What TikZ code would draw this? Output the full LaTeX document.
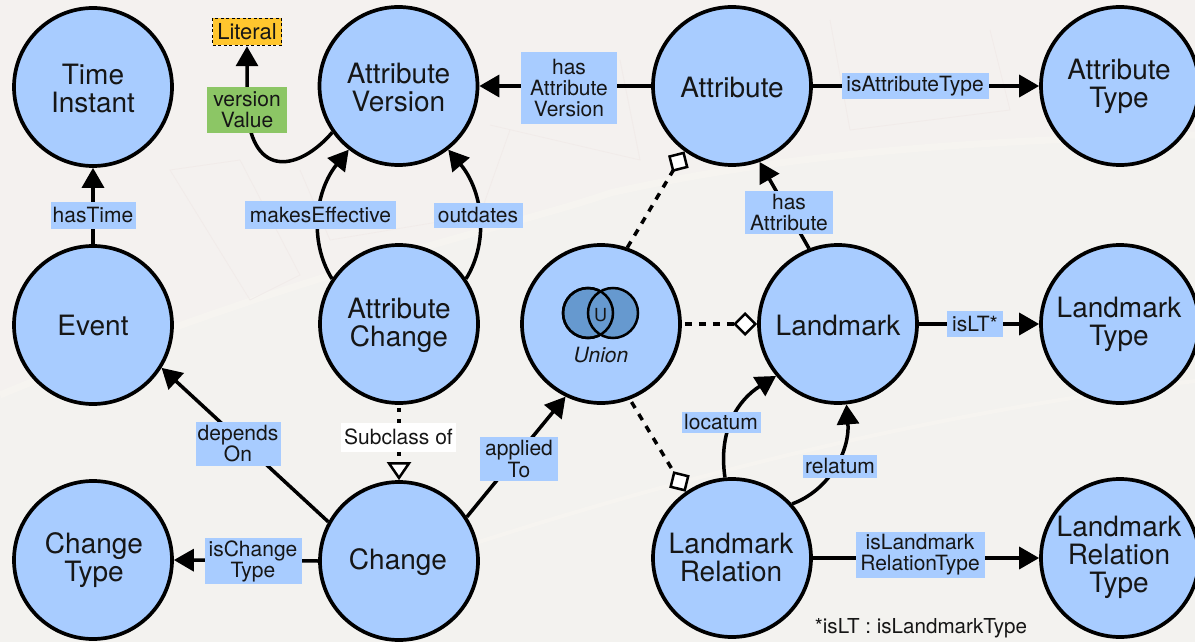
\documentclass[tikz,border=0pt]{standalone}
\usepackage{fontspec}
\setmainfont{TeX Gyre Heros}
\usetikzlibrary{arrows.meta}
\definecolor{bgc}{HTML}{F3F2EF}
\definecolor{mapc}{HTML}{F4F1EF}
\definecolor{bankc}{HTML}{F6F4F0}
\definecolor{parcelc}{HTML}{F1EBE9}
\definecolor{bluec}{HTML}{A8CCFF}
\definecolor{vennc}{HTML}{6699CF}
\definecolor{greenc}{HTML}{8CC665}
\definecolor{yellowc}{HTML}{FFC62E}
\definecolor{inkc}{HTML}{161616}
\tikzset{
  cnode/.style={circle,draw=black,line width=3.7pt,fill=bluec,minimum size=158pt,inner sep=0pt},
  ctext/.style={inner sep=0pt,align=center,text=inkc,font=\fontsize{28}{28}\selectfont},
  lbl/.style={fill=bluec,inner sep=0pt,align=center,text=inkc,font=\fontsize{21}{21}\selectfont},
  conn/.style={draw=black,line width=3.5pt},
  solidarrow/.style={conn,-{Triangle[length=20pt,width=22pt]}},
  dashdiamond/.style={conn,line width=3.5pt,dash pattern=on 7pt off 7pt,-{Diamond[length=24pt,width=24pt,fill=white,line width=2.5pt]}},
  subarrow/.style={conn,line width=3.5pt,dash pattern=on 4pt off 7pt,-{Triangle[length=18pt,width=24pt,fill=white,line width=2.5pt]}},
  plain/.style={inner sep=0pt,text=inkc}
}
\begin{document}
\begin{tikzpicture}[x=1pt,y=-1pt]
\useasboundingbox (0,0) rectangle (1195,642);
% background
\fill[bgc] (0,0) rectangle (1195,642);
\fill[mapc] (0,0) -- (1195,0) -- (1195,135) .. controls (1000,140) and (800,150) .. (610,193) .. controls (520,225) and (300,270) .. (0,395) -- cycle;
\draw[bankc,line width=7pt] (1195,135) .. controls (1000,140) and (800,150) .. (610,193) .. controls (520,225) and (300,270) .. (0,395);
\draw[bankc,line width=4pt] (1195,381) .. controls (950,410) and (700,470) .. (457,549);
\draw[parcelc,line width=.8pt] (170,170) -- (250,300) -- (300,275) -- (240,160) -- cycle;
\draw[parcelc,line width=.8pt] (300,170) -- (330,240) -- (480,215) -- (510,130);
\draw[parcelc,line width=.8pt] (490,125) -- (640,160) -- (620,60);
\draw[parcelc,line width=.8pt] (830,20) -- (850,130) -- (1010,110) -- (990,30);
% circles
\node[cnode] (TI) at (93,87) {};
\node[cnode] (AV) at (398.5,86) {};
\node[cnode] (AT) at (732,86) {};
\node[cnode] (ATT) at (1120,86) {};
\node[cnode] (EV) at (93,325) {};
\node[cnode] (AC) at (399,324) {};
\node[cnode] (UN) at (601,324) {};
\node[cnode] (LM) at (838,324) {};
\node[cnode] (LT) at (1120,324) {};
\node[cnode] (CT) at (93,560) {};
\node[cnode] (CH) at (399,561) {};
\node[cnode] (LR) at (732,558) {};
\node[cnode] (LRT) at (1120,558) {};
\node[ctext] (TItext) at (93,89) {Time\\Instant};
\node[ctext] (AVtext) at (398.5,88) {Attribute\\Version};
\node[ctext] (ATtext) at (732,88) {Attribute};
\node[ctext] (ATTtext) at (1119,86.5) {Attribute\\Type};
\node[ctext] (EVtext) at (93,326) {Event};
\node[ctext] (ACtext) at (399,325) {Attribute\\Change};
\node[ctext] (LMtext) at (838,326) {Landmark};
\node[ctext] (LTtext) at (1119,324.5) {Landmark\\Type};
\node[ctext] (CTtext) at (94,560.5) {Change\\Type};
\node[ctext] (CHtext) at (398,562) {Change};
\node[ctext] (LRtext) at (731,557) {Landmark\\Relation};
\node[ctext] (LRTtext) at (1119,557) {Landmark\\Relation\\Type};
% literal
\node[fill=yellowc,draw=black,line width=1.5pt,dash pattern=on 3pt off 2.5pt,minimum width=69pt,minimum height=27pt,inner sep=0pt,text=inkc,font=\fontsize{22}{22}\selectfont] (LIT) at (247,32) {Literal};
% venn
\fill[vennc,draw=black,line width=2.5pt] (588,313) circle (25);
\fill[vennc,draw=black,line width=2.5pt] (613,313) circle (25);
\draw[black,line width=2.5pt] (588,313) circle (25);
\node[plain,font=\fontsize{18}{18}\selectfont] (UU) at (600.5,315) {U};
\node[plain,font=\fontsize{21}{21}\selectfont\itshape] (UT) at (601,355) {Union};
% connectors
\coordinate (VV) at (247,110);
\draw[solidarrow] (EV.north) -- (TI.south);
\draw[solidarrow] (AT.west) -- (AV.east);
\draw[solidarrow] (AT.east) -- (ATT.west);
\draw[solidarrow] (LM.east) -- (LT.west);
\draw[solidarrow] (LR.east) -- (LRT.west);
\draw[solidarrow] (CH.west) -- (CT.east);
\draw[solidarrow] (CH.151) -- (EV.328);
\draw[solidarrow] (CH.33) -- (UN.244);
\draw[solidarrow] (LM.111) -- (AT.290);
\draw[solidarrow] (AC.146) .. controls (308,240) and (316,190) .. (AV.232);
\draw[solidarrow] (AC.34) .. controls (490,240) and (482,190) .. (AV.308);
\draw[solidarrow] (LR.95) .. controls (718,430) and (738,400) .. (LM.220);
\draw[solidarrow] (LR.42) .. controls (830,490) and (850,450) .. (LM.276);
\draw[solidarrow] (AV.215) .. controls (300,170) and (253,180) .. (VV) -- (LIT.south);
\draw[dashdiamond] (UN.71) -- (AT.234);
\draw[dashdiamond,shorten <=3pt] (UN.east) -- (LM.west);
\draw[dashdiamond,shorten <=3pt] (UN.291) -- (LR.125);
\draw[subarrow,shorten <=3pt] (AC.south) -- (CH.north);
% labels
\node[lbl,minimum width=85pt,minimum height=27pt] (L1) at (93,215) {hasTime};
\node[lbl,minimum width=151pt,minimum height=28pt] (L2) at (320.5,215) {makesEffective};
\node[lbl,minimum width=89pt,minimum height=25pt] (L3) at (478,215) {outdates};
\node[lbl,minimum width=96pt,minimum height=72pt] (L4) at (569,88) {has\\Attribute\\Version};
\node[lbl,minimum width=147pt,minimum height=26pt] (L5) at (915,86) {isAttributeType};
\node[lbl,minimum width=88pt,minimum height=43pt] (L6) at (789,212.5) {has\\Attribute};
\node[lbl,minimum width=56pt,minimum height=26pt] (L7) at (975,324) {isLT*};
\node[lbl,minimum width=79pt,minimum height=21pt] (L8) at (721,422) {locatum};
\node[lbl,minimum width=74pt,minimum height=23pt] (L9) at (840,466) {relatum};
\node[lbl,minimum width=85pt,minimum height=44pt] (L10) at (238,444) {depends\\On};
\node[lbl,fill=white,minimum width=115pt,minimum height=29pt] (L11) at (398.5,437) {Subclass of};
\node[lbl,minimum width=78pt,minimum height=44pt] (L12) at (519,459) {applied\\To};
\node[lbl,minimum width=97pt,minimum height=46pt] (L13) at (253,561) {isChange\\Type};
\node[lbl,minimum width=129pt,minimum height=46pt] (L14) at (920,555) {isLandmark\\RelationType};
\node[lbl,fill=greenc,minimum width=80pt,minimum height=45pt] (L15) at (247,110) {version\\Value};
\node[plain,font=\fontsize{20.6}{21}\selectfont] (NOTE) at (921,628) {*isLT : isLandmarkType};
\end{tikzpicture}
\end{document}
